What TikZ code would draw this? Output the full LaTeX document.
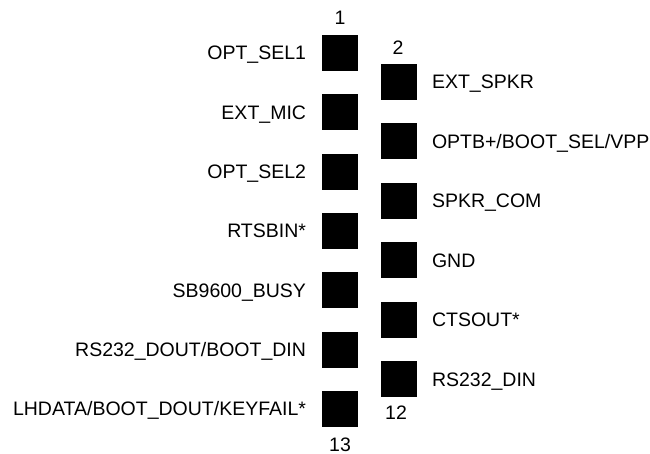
\documentclass[tikz,border=0pt]{standalone}
\usepackage{fontspec}
\setmainfont{Liberation Sans}
\begin{document}
\begin{tikzpicture}[x=1pt,y=-1pt,
  pad/.style={fill=black,draw=none,minimum width=36pt,minimum height=36pt,inner sep=0pt,outer sep=0pt},
  lbl/.style={font=\fontsize{19.5}{23}\selectfont,inner sep=0pt,outer sep=0pt},
  num/.style={font=\fontsize{19.5}{23}\selectfont,inner sep=0pt,outer sep=0pt,anchor=base}]
\useasboundingbox (0,0) rectangle (650,454);
% left pads (odd pins)
\foreach \i/\t [count=\k from 0] in {1/{OPT\_SEL1},3/{EXT\_MIC},5/{OPT\_SEL2},7/{RTSBIN*},9/{SB9600\_BUSY},11/{RS232\_DOUT/BOOT\_DIN},13/{LHDATA/BOOT\_DOUT/KEYFAIL*}}{
  \pgfmathsetmacro{\cy}{53+59.33*\k}
  \node[pad] (pad\i) at (340,\cy) {};
  \node[lbl,anchor=base east] (lab\i) at (306,\cy+7) {\t};
}
% right pads (even pins)
\foreach \i/\t [count=\k from 0] in {2/{EXT\_SPKR},4/{OPTB+/BOOT\_SEL/VPP},6/{SPKR\_COM},8/{GND},10/{CTSOUT*},12/{RS232\_DIN}}{
  \pgfmathsetmacro{\cy}{82+59.4*\k}
  \node[pad] (pad\i) at (399,\cy) {};
  \node[lbl,anchor=base west] (lab\i) at (432,\cy+7) {\t};
}
\node[num] (n1) at (340,25) {1};
\node[num] (n2) at (398,55) {2};
\node[num] (n12) at (396,419) {12};
\node[num] (n13) at (340,451) {13};
\end{tikzpicture}
\end{document}
